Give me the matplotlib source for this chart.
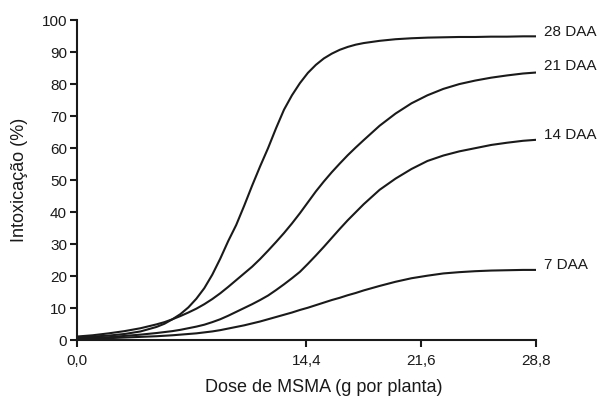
import matplotlib
matplotlib.use('Agg')
import matplotlib.pyplot as plt

plt.rcParams['font.family'] = ['Liberation Sans', 'DejaVu Sans']

# dose (g por planta)
dose = [0, 1, 2, 3, 4, 5, 5.5, 6, 6.5, 7, 7.5, 8, 8.5, 9, 9.5, 10, 10.5, 11, 11.5,
        12, 12.5, 13, 13.5, 14, 14.5, 15, 15.5, 16, 16.5, 17, 17.5, 18, 19,
        20, 21, 22, 23, 24, 25, 26, 27, 28, 28.8]

# intoxicação (%)
daa28 = [1.0, 1.2, 1.5, 2.0, 2.8, 4.2, 5.2, 6.6, 8.2, 10.3, 13.0, 16.3, 20.5, 25.5,
         31.0, 36.0, 42.0, 48.3, 54.3, 60.0, 66.2, 72.0, 76.5, 80.3, 83.5, 86.0,
         88.0, 89.5, 90.7, 91.6, 92.3, 92.8, 93.5, 94.0, 94.3, 94.5, 94.6, 94.7,
         94.7, 94.8, 94.8, 94.9, 94.9]
daa21 = [1.2, 1.6, 2.2, 2.9, 3.8, 5.0, 5.7, 6.6, 7.6, 8.7, 9.9, 11.3, 12.9, 14.7,
         16.7, 18.8, 20.9, 23.0, 25.4, 28.0, 30.7, 33.5, 36.5, 39.7, 43.1, 46.5,
         49.6, 52.5, 55.2, 57.8, 60.2, 62.5, 67.0, 70.8, 74.0, 76.5, 78.5, 80.0,
         81.1, 82.0, 82.7, 83.3, 83.6]
daa14 = [0.6, 0.8, 1.0, 1.4, 1.8, 2.3, 2.6, 2.9, 3.3, 3.8, 4.3, 4.9, 5.7, 6.6, 7.7,
         8.9, 10.1, 11.3, 12.6, 14.0, 15.7, 17.5, 19.4, 21.4, 23.9, 26.5, 29.2,
         32.0, 34.8, 37.5, 40.0, 42.5, 47.0, 50.5, 53.5, 56.0, 57.7, 59.0, 60.0,
         61.0, 61.7, 62.3, 62.6]
daa7 = [0.4, 0.5, 0.7, 0.9, 1.1, 1.3, 1.45, 1.6, 1.8, 2.0, 2.2, 2.5, 2.8, 3.2, 3.7,
        4.2, 4.7, 5.3, 5.9, 6.6, 7.3, 8.0, 8.7, 9.5, 10.2, 11.0, 11.8, 12.6, 13.3,
        14.1, 14.8, 15.6, 17.0, 18.3, 19.4, 20.2, 20.9, 21.3, 21.6, 21.8, 21.9,
        22.0, 22.0]

series = [('28 DAA', daa28, 96.3), ('21 DAA', daa21, 85.5),
          ('14 DAA', daa14, 64.2), ('7 DAA', daa7, 23.5)]

xticks = [0, 14.4, 21.6, 28.8]
xticklabels = ['0,0', '14,4', '21,6', '28,8']

fig = plt.figure(figsize=(6, 4), dpi=100)
ax = fig.add_axes([0.128, 0.149, 0.765, 0.801])

for nome, y, ylab in series:
    ax.plot(dose, y, color='#1a1a1a', lw=1.5, solid_joinstyle='round')
    ax.text(29.3, ylab, nome, ha='left', va='center', fontsize=11, color='#1a1a1a',
            clip_on=False)

ax.set_xlim(0, 28.8)
ax.set_ylim(0, 100)
ax.set_xticks(xticks)
ax.set_xticklabels(xticklabels)
ax.set_yticks(range(0, 101, 10))

for s in ['top', 'right']:
    ax.spines[s].set_visible(False)
for s in ['left', 'bottom']:
    ax.spines[s].set_linewidth(1.5)
    ax.spines[s].set_color('#1a1a1a')

ax.tick_params(direction='out', length=5, width=1.5, color='#1a1a1a',
               labelsize=11, labelcolor='#1a1a1a')
ax.tick_params(axis='x', pad=5)
ax.tick_params(axis='y', pad=2)

ax.set_xlabel('Dose de MSMA (g por planta)', fontsize=13, color='#1a1a1a')
ax.set_ylabel('Intoxicação (%)', fontsize=13, color='#1a1a1a')
ax.xaxis.set_label_coords(0.538, -0.12)
ax.yaxis.set_label_coords(-0.107, 0.5)

fig.savefig('out.png', dpi=100)
